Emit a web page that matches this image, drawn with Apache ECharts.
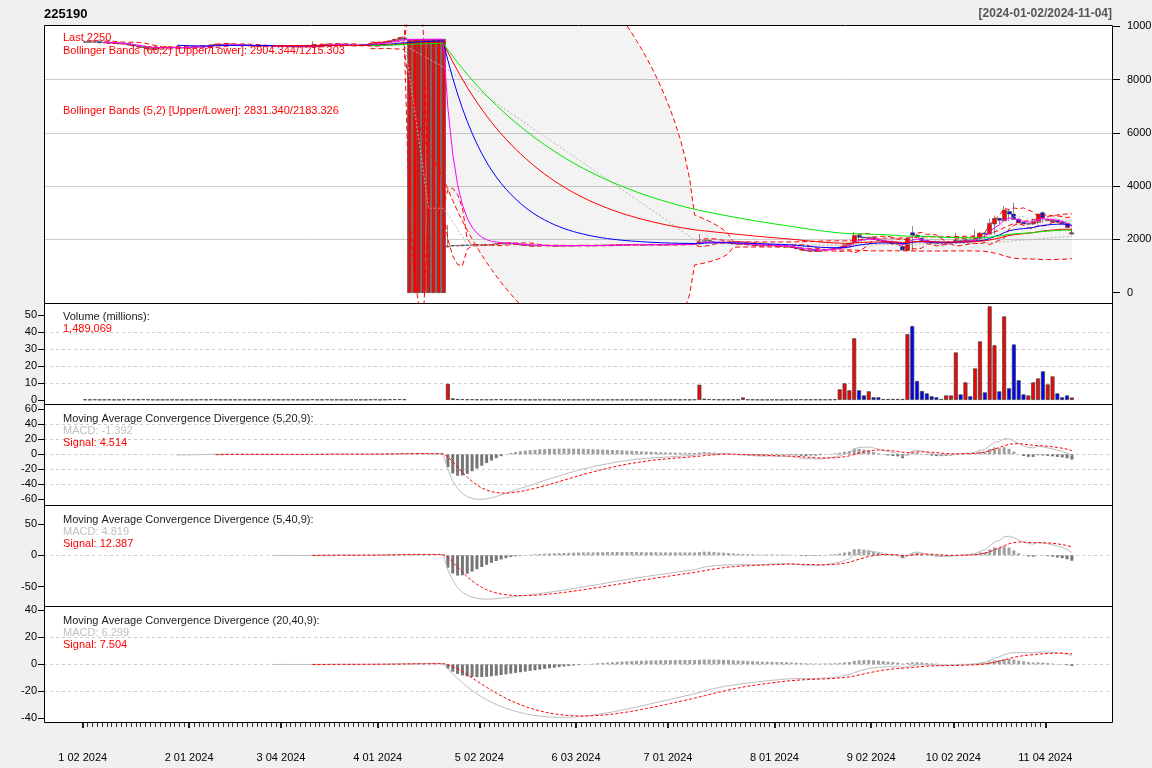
<!DOCTYPE html>
<html><head><meta charset="utf-8">
<script src="https://cdn.jsdelivr.net/npm/echarts@6/dist/echarts.min.js"></script>
<style>html,body{margin:0;padding:0;background:#f0f0f0;}#c{width:1152px;height:768px;}</style>
</head><body><div id="c"></div>
<script>
// ---- tick labels (bar index -> label) ----
const tickIdx = [0, 22, 41, 61, 82, 102, 121, 143, 163, 180, 199];
const tickLabels = ['1 02 2024','2 01 2024','3 04 2024','4 01 2024','5 02 2024','6 03 2024','7 01 2024','8 01 2024','9 02 2024','10 02 2024','11 04 2024'];
const lastTickIdx = 199;

// ---- daily OHLCV ----
const opens = [
9400,9420,9400,9430,9380,9400,9360,9380,9340,9350,9300,9260,9230,9200,9160,9150,9180,9200,9190,9210,
9180,9200,9220,9210,9230,9250,9240,9290,9320,9300,9330,9310,9290,9300,9280,9270,9260,9250,9270,9260,
9240,9250,9260,9240,9230,9250,9240,9260,9250,9280,9300,9320,9310,9330,9300,9280,9290,9270,9290,9310,
9340,9380,9370,9400,9450,9500,9560,
0,0,0,0,0,0,0,0,
1720,1750,1770,1760,1790,1780,1800,1790,1780,1800,1810,1840,1850,1830,1860,1820,1790,1780,1770,1760,
1780,1770,1760,1750,1770,1760,1770,1760,1780,1770,1760,1770,1780,1770,1790,1780,1800,1790,1800,1810,
1800,1790,1800,1810,1800,1790,1810,1800,1820,1810,1830,1820,1830,1920,1960,1920,1900,1880,1900,1870,
1840,1820,1830,1800,1790,1780,1760,1790,1770,1740,1760,1730,1700,1650,1600,1580,1620,1560,1590,1620,
1640,1660,1700,1800,1880,2150,2080,2050,2080,2000,1960,1910,1880,1860,1730,1580,2250,2160,2040,1960,
1900,1870,1840,1830,1850,1870,1950,1910,1980,1950,2030,2240,2200,2580,2790,2700,3050,2950,2760,2640,
2570,2580,2640,3000,2700,2650,2720,2650,2600,2200];
const highs = [
9460,9450,9470,9440,9420,9410,9400,9390,9370,9360,9320,9280,9250,9210,9190,9200,9230,9220,9240,9220,
9230,9250,9240,9260,9280,9270,9310,9350,9340,9360,9350,9320,9330,9310,9300,9290,9280,9300,9290,9270,
9270,9280,9270,9250,9270,9260,9280,9430,9300,9320,9350,9340,9360,9340,9310,9310,9300,9310,9330,9360,
9400,9400,9420,9470,9530,9600,9620,
0,0,0,0,0,0,0,0,
2540,1790,1780,1800,1800,1810,1810,1800,1810,1820,1850,1870,1860,1870,1870,1830,1800,1790,1780,1790,
1790,1780,1770,1780,1780,1780,1780,1790,1790,1780,1780,1790,1790,1800,1800,1810,1810,1810,1820,1820,
1810,1810,1820,1820,1810,1820,1820,1830,1830,1840,1840,1840,2200,2000,1980,1940,1910,1920,1910,1880,
1850,1900,1840,1810,1800,1790,1800,1800,1780,1770,1770,1740,1710,1660,1610,1640,1630,1600,1630,1650,
1670,1720,1820,1870,2290,2180,2100,2100,2090,2010,1970,1920,1890,1870,1740,2070,2500,2200,2060,1980,
1910,1880,1850,1870,1890,2250,1970,2050,1990,2370,2280,2260,2780,2900,2820,3250,3100,3380,2800,2660,
2620,2780,2960,3050,2780,2760,2730,2660,2610,2280];
const lows = [
9380,9370,9390,9360,9360,9340,9350,9320,9320,9280,9240,9210,9180,9140,9130,9140,9170,9170,9180,9160,
9170,9190,9190,9200,9220,9220,9230,9280,9280,9290,9290,9270,9280,9260,9250,9240,9230,9240,9240,9220,
9230,9240,9220,9210,9220,9220,9230,9240,9240,9270,9290,9290,9300,9280,9260,9270,9250,9260,9280,9300,
9330,9350,9360,9390,9440,9480,9500,
0,0,0,0,0,0,0,0,
1700,1740,1740,1750,1770,1770,1780,1770,1770,1790,1800,1830,1820,1820,1810,1780,1770,1760,1750,1750,
1760,1750,1740,1740,1750,1750,1750,1750,1760,1750,1750,1760,1760,1760,1770,1770,1780,1780,1790,1790,
1780,1780,1790,1790,1780,1780,1790,1800,1790,1800,1810,1810,1820,1900,1900,1880,1870,1870,1860,1860,
1830,1810,1800,1790,1780,1770,1750,1750,1760,1730,1730,1720,1690,1640,1590,1560,1570,1550,1550,1580,
1610,1630,1650,1690,1780,1870,2060,2030,2040,1990,1950,1900,1870,1850,1820,1590,1560,2100,2060,1900,
1870,1850,1830,1825,1820,1840,1860,1900,1900,1940,1940,2020,2180,2190,2560,2700,2690,2920,2720,2600,
2560,2550,2570,2630,2750,2680,2640,2630,2580,2430,2170];
const closes = [
9420,9400,9430,9380,9400,9360,9380,9340,9350,9300,9260,9230,9200,9160,9150,9180,9200,9190,9210,9180,
9200,9220,9210,9230,9250,9240,9290,9320,9300,9330,9310,9290,9300,9280,9270,9260,9250,9270,9260,9240,
9250,9260,9240,9230,9250,9240,9260,9250,9280,9300,9320,9310,9330,9300,9280,9290,9270,9290,9310,9340,
9380,9370,9400,9450,9500,9560,9510,
9510,9510,9510,9510,9510,9510,9510,9510,
1750,1770,1760,1790,1780,1800,1790,1780,1800,1810,1840,1850,1830,1860,1820,1790,1780,1770,1760,1780,
1770,1760,1750,1770,1760,1770,1760,1780,1770,1760,1770,1780,1770,1790,1780,1800,1790,1800,1810,1800,
1790,1800,1810,1800,1790,1810,1800,1820,1810,1830,1820,1830,1900,1960,1920,1900,1880,1900,1870,1840,
1820,1830,1800,1790,1780,1760,1790,1770,1740,1760,1730,1700,1650,1600,1580,1620,1560,1590,1620,1640,
1660,1700,1800,1850,2150,2080,2050,2080,2000,1960,1910,1880,1860,1840,1600,2040,2170,2100,1930,1890,
1860,1840,1835,1860,1880,1960,1910,1990,1950,2050,2230,2200,2600,2790,2720,3100,2950,2750,2620,2580,
2600,2660,2950,2800,2750,2720,2650,2600,2450,2250];
const volumes = [
0.3,0.2,0.3,0.2,0.2,0.3,0.2,0.2,0.3,0.4,0.3,0.3,0.4,0.3,0.2,0.2,0.2,0.2,0.2,0.2,
0.2,0.2,0.2,0.2,0.3,0.2,0.3,0.3,0.2,0.2,0.2,0.2,0.2,0.2,0.2,0.2,0.2,0.2,0.2,0.2,
0.2,0.2,0.2,0.2,0.2,0.2,0.2,0.4,0.2,0.2,0.3,0.2,0.2,0.2,0.2,0.2,0.2,0.2,0.2,0.3,
0.3,0.2,0.3,0.4,0.5,0.5,0.4,
0,0,0,0,0,0,0,0,
9.5,1.0,0.6,0.5,0.4,0.4,0.3,0.3,0.3,0.3,0.4,0.4,0.3,0.3,0.3,0.3,0.2,0.2,0.2,0.2,
0.2,0.2,0.2,0.2,0.2,0.2,0.2,0.2,0.2,0.2,0.2,0.2,0.2,0.2,0.2,0.2,0.2,0.2,0.2,0.2,
0.2,0.2,0.2,0.2,0.2,0.2,0.2,0.3,0.2,0.3,0.2,0.3,9.0,0.8,0.5,0.4,0.3,0.3,0.3,0.3,
0.3,1.5,0.3,0.3,0.2,0.2,0.2,0.2,0.2,0.2,0.2,0.3,0.3,0.4,0.3,0.3,0.3,0.3,0.3,0.3,
0.4,6.3,9.8,5.7,36.3,5.7,2.7,5.1,1.6,1.6,0.6,0.6,0.6,0.6,0.6,38.8,43.5,11.2,5.3,3.9,
2.2,1.6,0.6,2.7,2.7,28.0,3.3,10.4,2.2,18.6,34.5,4.5,55.1,32.2,5.1,49.2,6.9,32.7,11.6,3.3,
2.7,10.4,12.7,16.9,9.2,13.9,3.9,1.6,2.7,1.49];

// ---- panel texts ----
const mainTexts = ['Last 2250','Bollinger Bands (60,2) [Upper/Lower]: 2904.344/1215.303','Bollinger Bands (5,2) [Upper/Lower]: 2831.340/2183.326'];
const volTexts = ['Volume (millions):','1,489,069'];
const bbParams = [60, 5];
const emaParams = [5, 20, 40, 60];
const macdParams = [[5,20,9],[5,40,9],[20,40,9]];
const macdTexts = [['MACD: -1.392','Signal: 4.514'],['MACD: 4.819','Signal: 12.387'],['MACD: 6.299','Signal: 7.504']];
const mainTicks = [0,2000,4000,6000,8000,10000];
const volTicks = [0,10,20,30,40,50];
const macdTicks = [[-60,-40,-20,0,20,40,60],[-50,0,50],[-40,-20,0,20,40]];

// ---- indicator helpers (standard TTR definitions applied to the read prices) ----
function sma(x,n){const o=Array(x.length).fill(null);let s=0;for(let i=0;i<x.length;i++){s+=x[i];if(i>=n)s-=x[i-n];if(i>=n-1)o[i]=s/n;}return o;}
function rsd(x,n,m){const o=Array(x.length).fill(null);for(let i=n-1;i<x.length;i++){let v=0;for(let j=i-n+1;j<=i;j++)v+=(x[j]-m[i])*(x[j]-m[i]);o[i]=Math.sqrt(v/n);}return o;}
function ema(x,n){const o=Array(x.length).fill(null);let st=0;while(st<x.length&&x[st]==null)st++;if(st+n>x.length)return o;let s=0;for(let i=st;i<st+n;i++)s+=x[i];o[st+n-1]=s/n;const a=2/(n+1);for(let i=st+n;i<x.length;i++)o[i]=o[i-1]+a*(x[i]-o[i-1]);return o;}
const hlc = closes.map((c,i)=>(highs[i]+lows[i]+c)/3);
function bbands(n){const m=sma(hlc,n),sd=rsd(hlc,n,m);return {mid:m,up:m.map((v,i)=>v==null?null:v+2*sd[i]),dn:m.map((v,i)=>v==null?null:v-2*sd[i])};}
const bbL=bbands(bbParams[0]), bbS=bbands(bbParams[1]);
function macd(nf,ns,nsig){const f=ema(closes,nf),s=ema(closes,ns);const m=closes.map((_,i)=>f[i]!=null&&s[i]!=null?100*(f[i]/s[i]-1):null);const sg=ema(m,nsig);const h=m.map((v,i)=>v!=null&&sg[i]!=null?v-sg[i]:null);return {m,sg,h};}

const PAD=8, NCAT=221;
const cats=[];for(let k=-PAD;k<NCAT-PAD;k++)cats.push(String(k));
const tcats=[];for(let k=-PAD;k<=NCAT-PAD;k++)tcats.push(String(k));
const P=a=>Array(PAD).fill('-').concat(a.map(v=>v==null?'-':v));

const FONT="'Liberation Sans', Arial, sans-serif";
const L=44, R=1113, W=R-L;
const panels=[{top:25,h:278,min:-386,max:10045},{top:303,h:101,min:-2.35,max:57.06},{top:404,h:101,min:-67.6,max:67.1},{top:505,h:101,min:-80.9,max:80.2},{top:606,h:116,min:-42.7,max:43.2}];
const grids=panels.map(p=>({left:L,top:p.top,width:W,height:p.h,show:true,backgroundColor:'#fff',borderWidth:0,containLabel:false,outerBoundsMode:'none'}));
const xAxes=panels.map((p,i)=>({type:'category',gridIndex:i,data:cats,boundaryGap:true,axisLine:{show:false,onZero:false},axisTick:{show:false},axisLabel:{show:false},splitLine:{show:false}}));
// bottom tick axes
xAxes.push({type:'category',gridIndex:4,data:tcats,boundaryGap:false,position:'bottom',axisLine:{show:false,onZero:false},splitLine:{show:false},
  axisTick:{show:true,length:5,lineStyle:{color:'#333',width:1},interval:(idx)=>{const k=idx-PAD;return k>=0&&k<=lastTickIdx;}},
  axisLabel:{show:false}});
xAxes.push({type:'category',gridIndex:4,data:tcats,boundaryGap:false,position:'bottom',axisLine:{show:false,onZero:false},splitLine:{show:false},
  axisTick:{show:true,length:6,lineStyle:{color:'#222',width:2},interval:(idx)=>tickIdx.indexOf(idx-PAD)>=0},
  axisLabel:{show:true,margin:30,fontFamily:FONT,fontSize:11,color:'#000',interval:(idx)=>tickIdx.indexOf(idx-PAD)>=0,formatter:(v)=>{const j=tickIdx.indexOf(Number(v));return j>=0?tickLabels[j]:'';}}});

const ticksList=[mainTicks,volTicks].concat(macdTicks);
const yAxes=panels.map((p,i)=>({type:'value',gridIndex:i,min:p.min,max:p.max,
  position:i===0?'right':'left',
  splitNumber:[5,5,7,3,4][i],minInterval:[2000,10,20,50,20][i],maxInterval:[2000,10,20,50,20][i],
  axisLine:{show:false},
  axisTick:{show:true,length:i===0?7:6,lineStyle:{color:'#000'},customValues:ticksList[i]},
  axisLabel:{show:true,fontFamily:FONT,fontSize:11,color:'#000',margin:i===0?14:7,customValues:ticksList[i],formatter:(v)=>String(v),hideOverlap:false},
  splitLine:{show:true,showMinLine:false,showMaxLine:false,lineStyle:{color:'#cccccc',width:1,type:i===0?'solid':[3,3]}}
}));

const series=[];
const line=(data,xi,color,type,z,extra)=>Object.assign({type:'line',xAxisIndex:xi,yAxisIndex:xi,data:P(data),symbol:'none',showSymbol:false,silent:true,animation:false,connectNulls:false,z:z,lineStyle:{color:color,width:1,type:type}},extra||{});
// long Bollinger band fill
series.push(line(bbL.dn,0,'transparent','solid',1,{stack:'bb',stackStrategy:'all',lineStyle:{width:0,opacity:0}}));
series.push(line(bbL.up.map((v,i)=>v==null?null:v-bbL.dn[i]),0,'transparent','solid',1,{stack:'bb',stackStrategy:'all',lineStyle:{width:0,opacity:0},areaStyle:{color:'rgba(0,0,0,0.065)'}}));
// candles
series.push({type:'candlestick',xAxisIndex:0,yAxisIndex:0,z:2,barWidth:4.5,silent:true,
  data:P(closes.map((c,i)=>[opens[i],c,lows[i],highs[i]])),
  itemStyle:{color:'#ff0000',color0:'#0000ff',borderColor:'#585858',borderColor0:'#585858',borderWidth:0.7}});
// bands & MAs
[bbL,bbS].forEach(b=>{
  series.push(line(b.up,0,'#ff0000',[5,3],3));
  series.push(line(b.dn,0,'#ff0000',[5,3],3));
  series.push(line(b.mid,0,'#b4b4b4',[2,2],3));
});
const emaColors=['#ff00ff','#0000ff','#ff0000','#00e600'];
emaParams.forEach((n,k)=>series.push(line(ema(closes,n),0,emaColors[k],'solid',4)));
// volume
series.push({type:'bar',xAxisIndex:1,yAxisIndex:1,barWidth:4,silent:true,z:2,
  data:P(volumes.map((v,i)=>v>0?{value:v,itemStyle:{color:closes[i]>=opens[i]?'#ff0000':'#0000ff'}}:null)),
  itemStyle:{borderColor:'#444',borderWidth:0.8}});
// MACDs
macdParams.forEach((p,k)=>{
  const r=macd(p[0],p[1],p[2]);const xi=k+2;
  series.push({type:'bar',xAxisIndex:xi,yAxisIndex:xi,barWidth:3,silent:true,z:2,
    data:P(r.h.map(v=>v==null?null:{value:v,itemStyle:{color:v>=0?'#a0a0a0':'#767676'}}))});
  series.push(line(r.m,xi,'#bdbdbd','solid',3));
  series.push(line(r.sg,xi,'#ff0000',[3,2],4));
});

// texts
const T=(text,x,y,fill,opt)=>({type:'text',z:50,silent:true,style:{text:text,x:x,y:y,fill:fill,font:(opt&&opt.bold?'bold ':'')+((opt&&opt.size)||11)+'px '+FONT,align:(opt&&opt.align)||'left',verticalAlign:'middle'}});
const graphics=[
  T('225190',44,14,'#000',{bold:true,size:13}),
  T('[2024-01-02/2024-11-04]',1112,14,'#555',{bold:true,size:12,align:'right'}),
  T(mainTexts[0],63,38,'#ff0000'),
  T(mainTexts[1],63,51,'#ff0000'),
  T(mainTexts[2],63,111,'#ff0000'),
  T(volTexts[0],63,317,'#1a1a1a'),
  T(volTexts[1],63,329,'#ff0000'),
];
const mTop=[419,519.5,621];
macdParams.forEach((p,k)=>{
  graphics.push(T('Moving Average Convergence Divergence ('+p.join(',')+'):',63,mTop[k],'#1a1a1a'));
  graphics.push(T(macdTexts[k][0],63,mTop[k]+12,'#c0c0c0'));
  graphics.push(T(macdTexts[k][1],63,mTop[k]+24,'#ff0000'));
});
panels.forEach(p=>graphics.push({type:'rect',z:100,silent:true,shape:{x:L+0.5,y:p.top+0.5,width:W-1,height:p.h},style:{fill:'none',stroke:'#000',lineWidth:1}}));

const chart=echarts.init(document.getElementById('c'),null,{renderer:'canvas'});
chart.setOption({animation:false,backgroundColor:'#f0f0f0',grid:grids,xAxis:xAxes,yAxis:yAxes,series:series,graphic:graphics});
</script></body></html>
